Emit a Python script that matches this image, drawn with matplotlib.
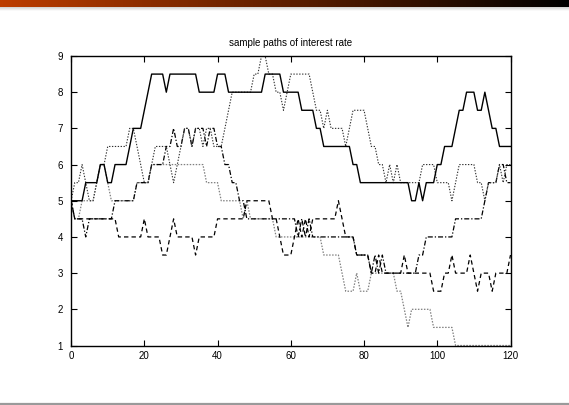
import numpy as np
import matplotlib
matplotlib.use("Agg")
import matplotlib.pyplot as plt
from matplotlib.lines import Line2D

plt.rcParams['font.family'] = ['Liberation Sans', 'DejaVu Sans']

# time axis
t = list(range(0, 121))

# sample paths (one value per time step)
path_solid = [
    5, 5, 5, 5, 5.5, 5.5, 5.5, 5.5, 6, 6,
    5.5, 5.5, 6, 6, 6, 6, 6.5, 7, 7, 7,
    7.5, 8, 8.5, 8.5, 8.5, 8.5, 8, 8.5, 8.5, 8.5,
    8.5, 8.5, 8.5, 8.5, 8.5, 8, 8, 8, 8, 8,
    8.5, 8.5, 8.5, 8, 8, 8, 8, 8, 8, 8,
    8, 8, 8, 8.5, 8.5, 8.5, 8.5, 8.5, 8, 8,
    8, 8, 8, 7.5, 7.5, 7.5, 7.5, 7, 7, 6.5,
    6.5, 6.5, 6.5, 6.5, 6.5, 6.5, 6.5, 6, 6, 5.5,
    5.5, 5.5, 5.5, 5.5, 5.5, 5.5, 5.5, 5.5, 5.5, 5.5,
    5.5, 5.5, 5.5, 5, 5, 5.5, 5, 5.5, 5.5, 5.5,
    6, 6, 6.5, 6.5, 6.5, 7, 7.5, 7.5, 8, 8,
    8, 7.5, 7.5, 8, 7.5, 7, 7, 6.5, 6.5, 6.5,
    6.5]

path_dotted = [
    5, 5.5, 5.5, 6, 5.5, 5, 5, 5.5, 6, 6,
    6.5, 6.5, 6.5, 6.5, 6.5, 6.5, 7, 7, 6.5, 6,
    5.5, 5.5, 6, 6.5, 6.5, 6.5, 6.5, 6, 5.5, 6,
    6.5, 7, 7, 6.5, 7, 7, 6.5, 7, 7, 6.5,
    6.5, 6.5, 7, 7.5, 8, 8, 8, 8, 8, 8,
    8.5, 8.5, 9, 9, 8.5, 8.5, 8, 8, 7.5, 8,
    8.5, 8.5, 8.5, 8.5, 8.5, 8.5, 8, 7.5, 7.5, 7,
    7.5, 7, 7, 7, 7, 6.5, 7, 7.5, 7.5, 7.5,
    7.5, 7, 6.5, 6.5, 6, 6, 5.5, 6, 5.5, 6,
    5.5, 5.5, 5.5, 5.5, 5.5, 5.5, 6, 6, 6, 6,
    5.5, 5.5, 5.5, 5.5, 5, 5.5, 6, 6, 6, 6,
    6, 5.5, 5.5, 5, 5.5, 5.5, 5.5, 6, 5.5, 6,
    6]

path_dashed = [
    5, 4.5, 4.5, 4.5, 4.5, 4.5, 4.5, 4.5, 4.5, 4.5,
    4.5, 4.5, 4.5, 4, 4, 4, 4, 4, 4, 4,
    4.5, 4, 4, 4, 4, 3.5, 3.5, 4, 4.5, 4,
    4, 4, 4, 4, 3.5, 4, 4, 4, 4, 4,
    4.5, 4.5, 4.5, 4.5, 4.5, 4.5, 4.5, 4.5, 5, 5,
    5, 5, 5, 5, 5, 4.5, 4.5, 4, 3.5, 3.5,
    3.5, 4, 4.5, 4, 4.5, 4, 4.5, 4.5, 4.5, 4.5,
    4.5, 4.5, 4.5, 5, 4.5, 4, 4, 4, 3.5, 3.5,
    3.5, 3.5, 3, 3, 3.5, 3, 3, 3, 3, 3,
    3, 3.5, 3, 3, 3, 3, 3, 3, 3, 2.5,
    2.5, 2.5, 3, 3, 3.5, 3, 3, 3, 3, 3.5,
    3, 2.5, 3, 3, 3, 2.5, 3, 3, 3, 3,
    3.5]

path_dashdot = [
    5, 4.5, 4.5, 4.5, 4, 4.5, 4.5, 4.5, 4.5, 4.5,
    4.5, 4.5, 5, 5, 5, 5, 5, 5, 5.5, 5.5,
    5.5, 5.5, 6, 6, 6, 6, 6.5, 6.5, 7, 6.5,
    6.5, 7, 7, 6.5, 7, 7, 7, 6.5, 7, 7,
    6.5, 6.5, 6, 6, 5.5, 5.5, 5, 5, 4.5, 4.5,
    4.5, 4.5, 4.5, 4.5, 4.5, 4.5, 4.5, 4.5, 4.5, 4.5,
    4.5, 4.5, 4, 4.5, 4, 4.5, 4, 4, 4, 4,
    4, 4, 4, 4, 4, 4, 4, 4, 3.5, 3.5,
    3.5, 3.5, 3, 3.5, 3, 3.5, 3, 3, 3, 3,
    3, 3, 3, 3, 3, 3.5, 3.5, 4, 4, 4,
    4, 4, 4, 4, 4, 4.5, 4.5, 4.5, 4.5, 4.5,
    4.5, 4.5, 4.5, 5, 5.5, 5.5, 5.5, 6, 6, 5.5,
    5.5]

path_gray = [
    5, 4.5, 4.5, 5, 5, 5, 5, 5.5, 6, 6,
    5.5, 5, 5, 5, 5, 5, 5, 5, 5.5, 5.5,
    5.5, 5.5, 6, 6, 6, 6, 6, 6, 6, 6,
    6, 6, 6, 6, 6, 6, 6, 5.5, 5.5, 5.5,
    5.5, 5, 5, 5, 5, 5, 5, 4.5, 5, 4.5,
    4.5, 4.5, 4.5, 4.5, 4.5, 4.5, 4, 4, 4, 4,
    4, 4, 4, 4, 4, 4, 4, 4, 4, 3.5,
    3.5, 3.5, 3.5, 3.5, 3, 2.5, 2.5, 2.5, 3, 2.5,
    2.5, 2.5, 3, 3, 3, 3, 3, 3, 3, 2.5,
    2.5, 2, 1.5, 2, 2, 2, 2, 2, 2, 1.5,
    1.5, 1.5, 1.5, 1.5, 1.5, 1, 1, 1, 1, 1,
    1, 1, 1, 1, 1, 1, 1, 1, 1, 1,
    1]

x_ticks = [0, 20, 40, 60, 80, 100, 120]
y_ticks = [1, 2, 3, 4, 5, 6, 7, 8, 9]
title = "sample paths of interest rate"

W, H = 569, 405
fig = plt.figure(figsize=(W / 100, H / 100), dpi=100)
fig.patch.set_facecolor('white')

# slide header bar (gradient orange -> black)
hdr = fig.add_axes([0, 1 - 7 / H, 1, 7 / H])
grad = np.linspace(0, 1, 256)
c0 = np.array([0.74, 0.24, 0.0])
c1 = np.array([0.0, 0.0, 0.0])
img = (c0[None, :] * (1 - grad[:, None]) + c1[None, :] * grad[:, None])[None, :, :]
hdr.imshow(img, aspect='auto', extent=[0, 1, 0, 1])
hdr.set_axis_off()
# soft shadow under header
sh = fig.add_axes([0, 1 - 11 / H, 1, 4 / H])
sgrad = np.linspace(0.82, 1.0, 32)
sh.imshow(np.repeat(sgrad[:, None], 4, axis=1)[:, :, None].repeat(3, axis=2),
          aspect='auto', extent=[0, 1, 0, 1])
sh.set_axis_off()

# bottom gray rule
fig.add_artist(Line2D([0, 1], [1.2 / H, 1.2 / H], color='#9a9a9a', lw=1.6,
                      transform=fig.transFigure))

ax = fig.add_axes([71.1 / W, (H - 345.5) / H, (510.5 - 71.1) / W, (345.5 - 56) / H])

ax.plot(t, path_gray, color='#808080', lw=0.9, linestyle=(0, (1.2, 1.2)))
ax.plot(t, path_dashdot, color='black', lw=0.9, linestyle=(0, (4, 1.6, 1, 1.6)))
ax.plot(t, path_dashed, color='black', lw=0.9, linestyle=(0, (3.5, 2.5)))
ax.plot(t, path_dotted, color='#303030', lw=0.8, linestyle=(0, (1.2, 1.4)))
ax.plot(t, path_solid, color='black', lw=1.0, linestyle='-')

ax.set_xlim(0, 120)
ax.set_ylim(1, 9)
ax.set_xticks(x_ticks)
ax.set_yticks(y_ticks)
ax.tick_params(direction='in', top=True, right=True, length=4, width=0.8,
               labelsize=7, pad=4)
ax.tick_params(axis='y', pad=6)
for s in ax.spines.values():
    s.set_linewidth(1.0)
ax.set_title(title, fontsize=7, pad=7)

fig.savefig('out.png', dpi=100)
